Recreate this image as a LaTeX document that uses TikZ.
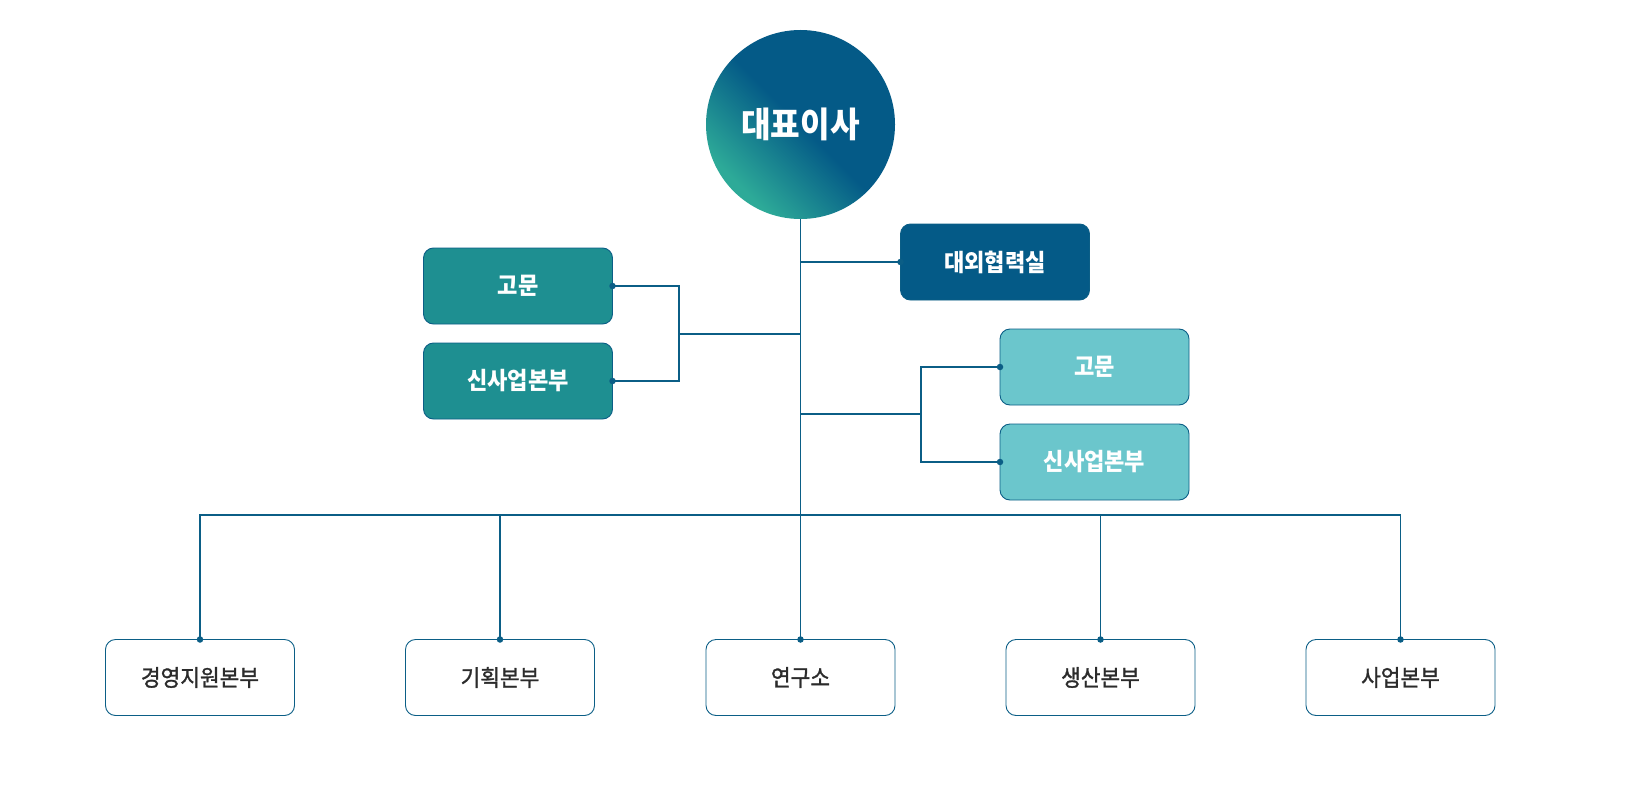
\documentclass[tikz,border=0pt]{standalone}
\usepackage{fontspec}
\newfontfamily\kr[FakeStretch=0.92]{Noto Sans CJK KR}
\newfontfamily\krm[FakeStretch=0.93,FakeBold=1.2]{Noto Sans CJK KR}
\definecolor{navy}{HTML}{045A87}
\definecolor{tealbox}{HTML}{1E8F91}
\definecolor{lightbox}{HTML}{6BC6CC}
\definecolor{linec}{HTML}{0B5E86}
\definecolor{txt}{HTML}{2B2B2B}
\definecolor{gteal}{HTML}{2DAA98}
\pgfdeclarehorizontalshading{ceogrd}{100bp}{color(0bp)=(gteal); color(27bp)=(gteal); color(50bp)=(navy); color(100bp)=(navy)}
\begin{document}
\begin{tikzpicture}[x=1pt,y=-1pt,
  box/.style={rectangle, rounded corners=10pt, minimum width=189pt, minimum height=76pt,
    inner sep=0pt, outer sep=0pt, draw=linec, line width=0.9pt},
  darkbox/.style={box, fill=tealbox, text=white, font=\kr\bfseries\fontsize{24}{28}\selectfont},
  navybox/.style={box, fill=navy, text=white, font=\kr\bfseries\fontsize{24}{28}\selectfont},
  lightbx/.style={box, fill=lightbox, text=white, font=\kr\bfseries\fontsize{24}{28}\selectfont},
  whitebox/.style={box, fill=white, text=txt, font=\krm\fontsize{23}{27}\selectfont},
  conn/.style={draw=linec, line width=1.1pt},
  jdot/.style={circle, fill=linec, inner sep=0pt, minimum size=6.5pt}]
\fill[white] (0,0) rectangle (1640,800);
\useasboundingbox (0,0) rectangle (1640,800);

\node[circle, minimum size=189pt, inner sep=0pt, outer sep=0pt, shading=ceogrd, shading angle=45,
  text=white, font=\kr\bfseries\fontsize{35}{40}\selectfont] (ceo) at (800.5,124.5) {대표이사};

\node[darkbox] (advL) at (518,286) {고문};
\node[darkbox] (newL) at (518,381) {신사업본부};
\node[navybox] (ext) at (995,262) {대외협력실};
\node[lightbx] (advR) at (1094.5,367) {고문};
\node[lightbx] (newR) at (1094.5,462) {신사업본부};

\node[whitebox] (b1) at (200,677.5) {경영지원본부};
\node[whitebox] (b2) at (500,677.5) {기획본부};
\node[whitebox] (b3) at (800.5,677.5) {연구소};
\node[whitebox] (b4) at (1100.5,677.5) {생산본부};
\node[whitebox] (b5) at (1400.5,677.5) {사업본부};

\coordinate (bl) at (679,334);
\coordinate (br) at (921,414);
\coordinate (bus) at (0,515);

\draw[conn] (ceo.south) -- (b3.north);
\draw[conn] (ext.west) -- (ext.west -| ceo.south);
\draw[conn] (advL.east) -- (advL.east -| bl) -- (newL.east -| bl) -- (newL.east);
\draw[conn] (bl) -- (bl -| ceo.south);
\draw[conn] (advR.west) -- (advR.west -| br) -- (newR.west -| br) -- (newR.west);
\draw[conn] (br) -- (br -| ceo.south);
\draw[conn] (b1.north) -- (b1.north |- bus) -- (b5.north |- bus) -- (b5.north);
\draw[conn] (b2.north) -- (b2.north |- bus);
\draw[conn] (b4.north) -- (b4.north |- bus);

\foreach \a in {advL.east,newL.east,ext.west,advR.west,newR.west,b1.north,b2.north,b3.north,b4.north,b5.north}
  \node[jdot] at (\a) {};
\end{tikzpicture}
\end{document}
